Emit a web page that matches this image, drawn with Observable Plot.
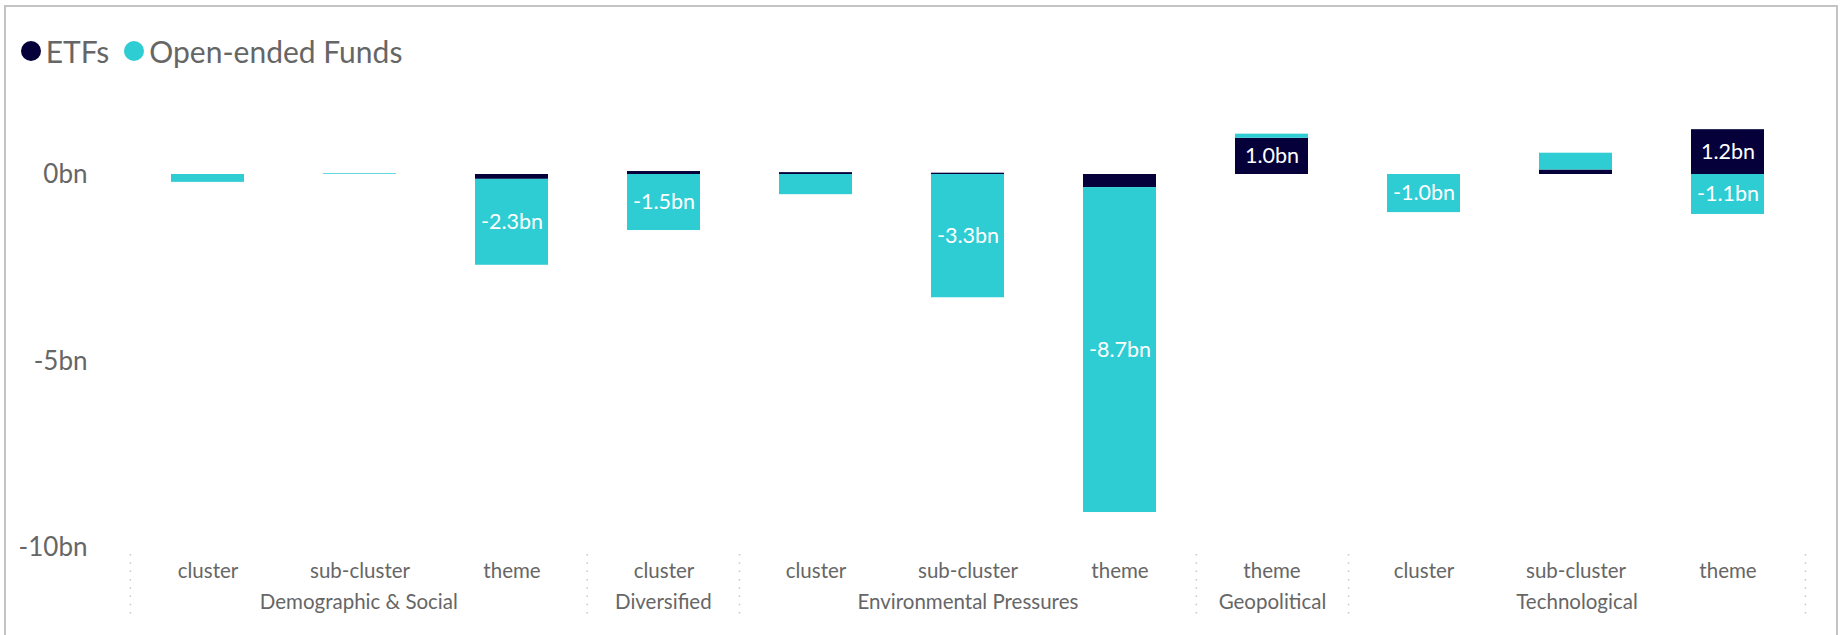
<!DOCTYPE html>
<html><head><meta charset="utf-8">
<script src="https://cdn.jsdelivr.net/npm/d3@7"></script>
<script src="https://cdn.jsdelivr.net/npm/@observablehq/plot@0.6"></script>
<style>
html,body{margin:0;background:#fff;font-family:Lato,sans-serif;overflow:hidden;width:1846px;height:635px;}
#frame{position:absolute;left:4px;top:5px;width:1830px;height:628px;border:2px solid #c4c4c4;border-bottom:none;}
#legend{position:absolute;left:20.7px;top:32.5px;display:flex;align-items:center;font-size:30px;color:#666;white-space:nowrap;}
#legend .dot{width:20px;height:20px;border-radius:50%;margin-right:5px;display:inline-block}
#legend .item{display:flex;align-items:center;margin-right:15px}
#chart{position:absolute;left:0;top:80px;}
</style></head><body>
<div id="frame"></div>
<div id="legend"></div>
<div id="chart"></div>
<script>
const groups = ["Demographic & Social","Demographic & Social","Demographic & Social","Diversified","Environmental Pressures","Environmental Pressures","Environmental Pressures","Geopolitical","Technological","Technological","Technological"];
const levels = ["cluster","sub-cluster","theme","cluster","cluster","sub-cluster","theme","theme","cluster","sub-cluster","theme"];
const etfs      = [0, 0, -0.13, 0.08, 0.05, 0.035, -0.35, 0.97, 0, 0.12, 1.2];
const openEnded = [-0.21, 0.02, -2.3, -1.5, -0.54, -3.3, -8.7, 0.11, -1.02, 0.45, -1.07];
const series = ["ETFs","Open-ended Funds"];
const colors = ["#05003A","#2ECCD3"];
const yTicks = [0,-5,-10];

const keys = levels.map((l,i)=> groups[i] + "|" + l + "|" + i);
const rows = [];
keys.forEach((k,i)=>{
  rows.push({key:k, series:series[0], value:etfs[i]});
  rows.push({key:k, series:series[1], value:openEnded[i]});
});
const fmt = v => v.toFixed(1) + "bn";

// legend
const leg = document.getElementById("legend");
series.forEach((s,i)=>{
  const it = document.createElement("div"); it.className="item";
  const d = document.createElement("span"); d.className="dot"; d.style.background=colors[i];
  const t = document.createElement("span"); t.textContent=s;
  it.appendChild(d); it.appendChild(t); leg.appendChild(it);
});

const W = 1846, H = 555;
const plot = Plot.plot({
  width: W, height: H,
  marginLeft: 130.4, marginRight: 40.6, marginTop: 19.3, marginBottom: 87.5,
  style: {fontFamily: "Lato, sans-serif", color: "#666", background: "transparent", overflow: "visible"},
  x: {domain: keys, paddingInner: 0.52, paddingOuter: 0.26, axis: null},
  y: {domain: [-10, 2], axis: null},
  color: {domain: series, range: colors},
  marks: [
    Plot.barY(rows, {x: "key", y: "value", fill: "series"}),
    Plot.text(rows, Plot.stackY({x: "key", y: "value", z: "series",
      text: d => Math.abs(d.value) >= 0.95 ? fmt(d.value) : null,
      fill: "white", fontSize: 21.5})),
    Plot.axisY({ticks: yTicks, tickFormat: d => d + "bn", tickSize: 0, tickPadding: 43.4, fontSize: 26, fill: "#666", label: null}),
    Plot.text(keys, {x: d => d, text: (d, i) => levels[i], frameAnchor: "bottom", dy: 30, fontSize: 20.5, fill: "#666"})
  ]
});
document.getElementById("chart").appendChild(plot);

// group labels and dotted separators from the x scale
const xs = plot.scale("x");
const r0 = xs.range[0], r1 = xs.range[1];
const step = (r1 - r0) / keys.length;
const svg = d3.select(plot);
const groupNames = [...new Set(groups)];
const bounds = [0];
groupNames.forEach(g=>{
  const first = groups.indexOf(g), last = groups.lastIndexOf(g);
  const cx = r0 + step * (first + last + 1) / 2;
  svg.append("text").attr("x", cx).attr("y", 522).attr("dy", "0.32em")
    .attr("text-anchor", "middle").attr("font-size", 20.5).attr("fill", "#666")
    .attr("font-family", "Lato, sans-serif").text(g);
  bounds.push(last + 1);
});
bounds.forEach(b=>{
  const x = r0 + step * b;
  svg.append("line").attr("x1", x).attr("x2", x).attr("y1", 474).attr("y2", 540)
    .attr("stroke", "#c8c8c8").attr("stroke-width", 1.5).attr("stroke-dasharray", "1.5 6.8");
});
</script>
</body></html>
